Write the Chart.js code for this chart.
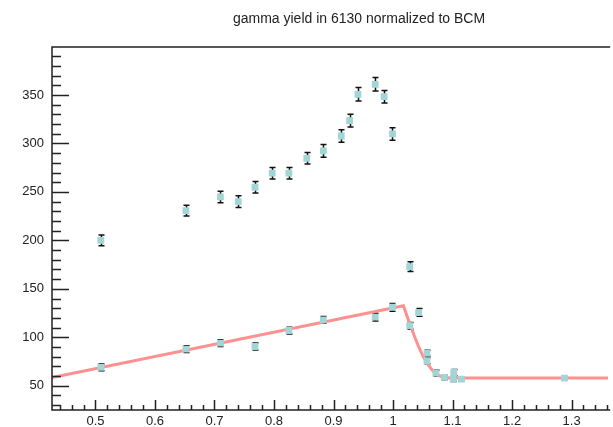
<!DOCTYPE html>
<html>
<head>
<meta charset="utf-8">
<script src="https://cdn.jsdelivr.net/npm/chart.js@4.4.1/dist/chart.umd.min.js"></script>
<style>
  html, body { margin: 0; padding: 0; background: #fff; }
</style>
</head>
<body>
<canvas id="chart" width="613" height="427"></canvas>
<script>
const chartTitle = 'gamma yield in 6130 normalized to BCM';

// upper run of measurements
const highX   = [0.509, 0.652, 0.710, 0.740, 0.768, 0.797, 0.825, 0.855, 0.883, 0.913, 0.927, 0.941, 0.970, 0.985, 0.999, 1.028, 1.043, 1.057, 1.102];
const highY   = [200.0, 230.7, 244.8, 240.0, 254.8, 269.3, 269.3, 284.7, 292.3, 307.7, 323.5, 350.7, 361.0, 348.2, 309.8, 173.0, 125.6, 83.7, 63.7];
const highErr = [5.5, 5.5, 6, 6, 6, 6, 6, 6, 6.5, 6.5, 6.5, 7, 7, 6.5, 6.5, 5, 4, 3, 3];

// lower run of measurements (the fitted one)
const lowX   = [0.509, 0.652, 0.710, 0.768, 0.825, 0.883, 0.970, 0.999, 1.028, 1.057, 1.072, 1.086, 1.101, 1.115, 1.288];
const lowY   = [68.9, 87.8, 94.0, 90.5, 107.0, 118.0, 120.8, 131.0, 111.9, 75.8, 63.0, 58.6, 56.9, 56.9, 57.9];
const lowErr = [3.5, 3.5, 3.5, 3.5, 3.5, 3.5, 4, 4, 3.5, 3, 3, 2.5, 2.5, 1, 1];

// fit curve
const fitX = [0.427, 1.0175, 1.024, 1.0288, 1.036, 1.0428, 1.050, 1.0566, 1.064, 1.0704, 1.078, 1.085, 1.095, 1.3615];
const fitY = [58.5, 132.5, 121.0, 113.0, 101.0, 90.5, 81.0, 73.8, 67.5, 63.2, 60.2, 58.8, 58.1, 58.0];

const xTickValues = [0.5, 0.6, 0.7, 0.8, 0.9, 1.0, 1.1, 1.2, 1.3];
const xTickLabels = ['0.5', '0.6', '0.7', '0.8', '0.9', '1', '1.1', '1.2', '1.3'];
const yTickValues = [50, 100, 150, 200, 250, 300, 350];
const yTickLabels = ['50', '100', '150', '200', '250', '300', '350'];

const MARKER = '#a2d6d6';
const TEXT = '#222';
const FONT = '"Liberation Sans", Arial, Helvetica, sans-serif';

const toPoints = (xs, ys) => xs.map((x, i) => ({ x, y: ys[i] }));

// error bars under the markers
const errorBars = {
  id: 'errorBars',
  beforeDatasetsDraw(chart) {
    const { ctx, scales: { x, y } } = chart;
    ctx.save();
    ctx.strokeStyle = '#111';
    ctx.lineWidth = 1.5;
    [[highX, highY, highErr], [lowX, lowY, lowErr]].forEach(([xs, ys, es]) => {
      xs.forEach((xv, i) => {
        const px = Math.round(x.getPixelForValue(xv)) + 0.5;
        const top = y.getPixelForValue(ys[i] + es[i]);
        const bot = y.getPixelForValue(ys[i] - es[i]);
        ctx.beginPath();
        ctx.moveTo(px, top); ctx.lineTo(px, bot);
        ctx.moveTo(px - 3, top); ctx.lineTo(px + 3, top);
        ctx.moveTo(px - 3, bot); ctx.lineTo(px + 3, bot);
        ctx.stroke();
      });
    });
    ctx.restore();
  }
};

// ROOT-like frame with inward ticks, plus title
const frameAndTicks = {
  id: 'frameAndTicks',
  afterDraw(chart) {
    const { ctx, chartArea: a, scales: { x, y } } = chart;
    ctx.save();
    ctx.strokeStyle = '#222';
    ctx.lineWidth = 1.5;
    ctx.beginPath();
    ctx.moveTo(a.right + 2, a.top); ctx.lineTo(a.left, a.top);
    ctx.lineTo(a.left, a.bottom); ctx.lineTo(a.right + 2, a.bottom);
    ctx.stroke();

    ctx.beginPath();
    for (let k = 22; k <= 68; k++) {
      const px = Math.round(x.getPixelForValue(k / 50)) + 0.5;
      if (px <= a.left || px >= a.right) continue;
      const len = k % 5 === 0 ? 10 : 5;
      ctx.moveTo(px, a.bottom); ctx.lineTo(px, a.bottom - len);
    }
    for (let k = 3; k <= 39; k++) {
      const py = Math.round(y.getPixelForValue(k * 10)) + 0.5;
      if (py <= a.top || py >= a.bottom) continue;
      const len = k % 5 === 0 ? 17 : 9;
      ctx.moveTo(a.left, py); ctx.lineTo(a.left + len, py);
    }
    ctx.stroke();

    ctx.fillStyle = TEXT;
    ctx.font = '14px ' + FONT;
    ctx.textAlign = 'center';
    ctx.textBaseline = 'middle';
    ctx.fillText(chartTitle, 359, 19);
    ctx.restore();
  }
};

new Chart(document.getElementById('chart'), {
  type: 'scatter',
  data: {
    datasets: [
      {
        type: 'line',
        data: toPoints(fitX, fitY),
        borderColor: '#ff9090',
        borderWidth: 3,
        pointRadius: 0,
        tension: 0,
        fill: false,
        order: 3
      },
      {
        data: toPoints(highX, highY),
        pointStyle: 'rect',
        pointRadius: 4.8,
        backgroundColor: MARKER,
        borderWidth: 0,
        order: 1
      },
      {
        data: toPoints(lowX, lowY),
        pointStyle: 'rect',
        pointRadius: 4.8,
        backgroundColor: MARKER,
        borderWidth: 0,
        order: 1
      }
    ]
  },
  options: {
    responsive: false,
    animation: false,
    devicePixelRatio: 1,
    layout: { padding: { top: 47, left: 0, right: 0, bottom: 0 } },
    plugins: { legend: { display: false }, tooltip: { enabled: false } },
    scales: {
      x: {
        type: 'linear',
        min: 0.427,
        max: 1.3615,
        grid: { display: false, drawTicks: false },
        border: { display: false },
        afterBuildTicks: s => { s.ticks = xTickValues.map(v => ({ value: v })); },
        afterFit: s => { s.height = 17; },
        ticks: {
          autoSkip: false,
          maxRotation: 0,
          padding: 4,
          color: TEXT,
          font: { family: FONT, size: 13 },
          callback: (v, i) => xTickLabels[i]
        }
      },
      y: {
        type: 'linear',
        min: 25,
        max: 399.5,
        grid: { display: false, drawTicks: false },
        border: { display: false },
        afterBuildTicks: s => { s.ticks = yTickValues.map(v => ({ value: v })); },
        afterFit: s => { s.width = 52; },
        ticks: {
          autoSkip: false,
          padding: 8,
          color: TEXT,
          font: { family: FONT, size: 13 },
          callback: (v, i) => yTickLabels[i]
        }
      }
    }
  },
  plugins: [errorBars, frameAndTicks]
});
</script>
</body>
</html>
